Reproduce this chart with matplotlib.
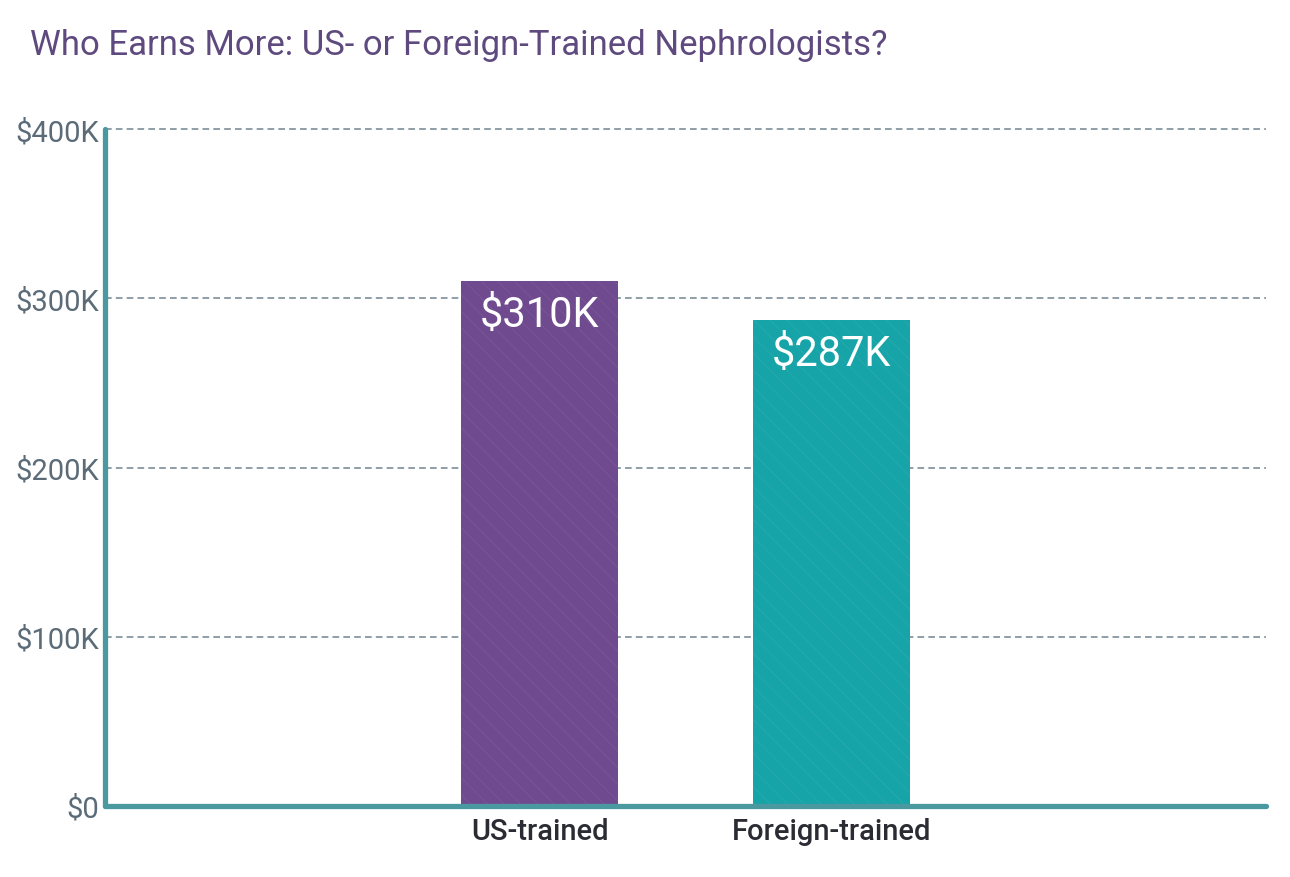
import matplotlib
matplotlib.use("Agg")
import matplotlib.pyplot as plt
from matplotlib.ticker import FuncFormatter

categories = ["US-trained", "Foreign-trained"]
earnings = [310, 287]  # thousands of dollars
value_labels = ["$310K", "$287K"]
y_ticks = [0, 100, 200, 300, 400]

bar_colors = ["#6f4a8e", "#17a4a8"]
hatch_colors = ["#7b5998", "#2aabaf"]

plt.rcParams['font.family'] = ['Roboto', 'DejaVu Sans']

fig = plt.figure(figsize=(12.9, 8.78), dpi=100)
ax = fig.add_axes([105 / 1290, 1 - 807 / 878, 1161 / 1290, (807 - 130) / 878])

x = list(range(len(categories)))
for i in x:
    plt.rcParams['hatch.color'] = hatch_colors[i]
    plt.rcParams['hatch.linewidth'] = 0.5
    ax.bar(i, earnings[i], width=0.54, color=bar_colors[i], hatch='\\\\',
           linewidth=0, zorder=3)

for i in x:
    ax.annotate(value_labels[i], xy=(i, earnings[i]), xytext=(0, -9),
                textcoords='offset points', ha='center', va='top',
                color='white', fontsize=30, zorder=4)

ax.set_xlim(-1.49, 2.49)
ax.set_ylim(0, 400)
ax.set_yticks(y_ticks)
ax.yaxis.set_major_formatter(FuncFormatter(lambda v, p: "$0" if v == 0 else f"${int(v)}K"))
ax.set_xticks(x)
ax.set_xticklabels(categories, fontsize=21, color="#2b2b33", fontweight='medium')
ax.tick_params(axis='y', length=0, pad=4, labelsize=21, labelcolor="#5b6b77")
ax.tick_params(axis='x', length=0, pad=8)

for y in y_ticks[1:]:
    ax.axhline(y, color="#7c8e98", linewidth=1.2, linestyle=(0, (4, 2.5)), zorder=1,
               clip_on=False)

for side in ['top', 'right']:
    ax.spines[side].set_visible(False)
for side in ['left', 'bottom']:
    ax.spines[side].set_color("#4a98a0")
    ax.spines[side].set_linewidth(3.8)
    ax.spines[side].set_capstyle('round')
    ax.spines[side].set_zorder(5)

fig.text(30 / 1290, 1 - 45 / 878, "Who Earns More: US- or Foreign-Trained Nephrologists?",
         fontsize=25, color="#5e4a7e", va='center', ha='left')

fig.savefig("out.png", dpi=100, facecolor='white')
